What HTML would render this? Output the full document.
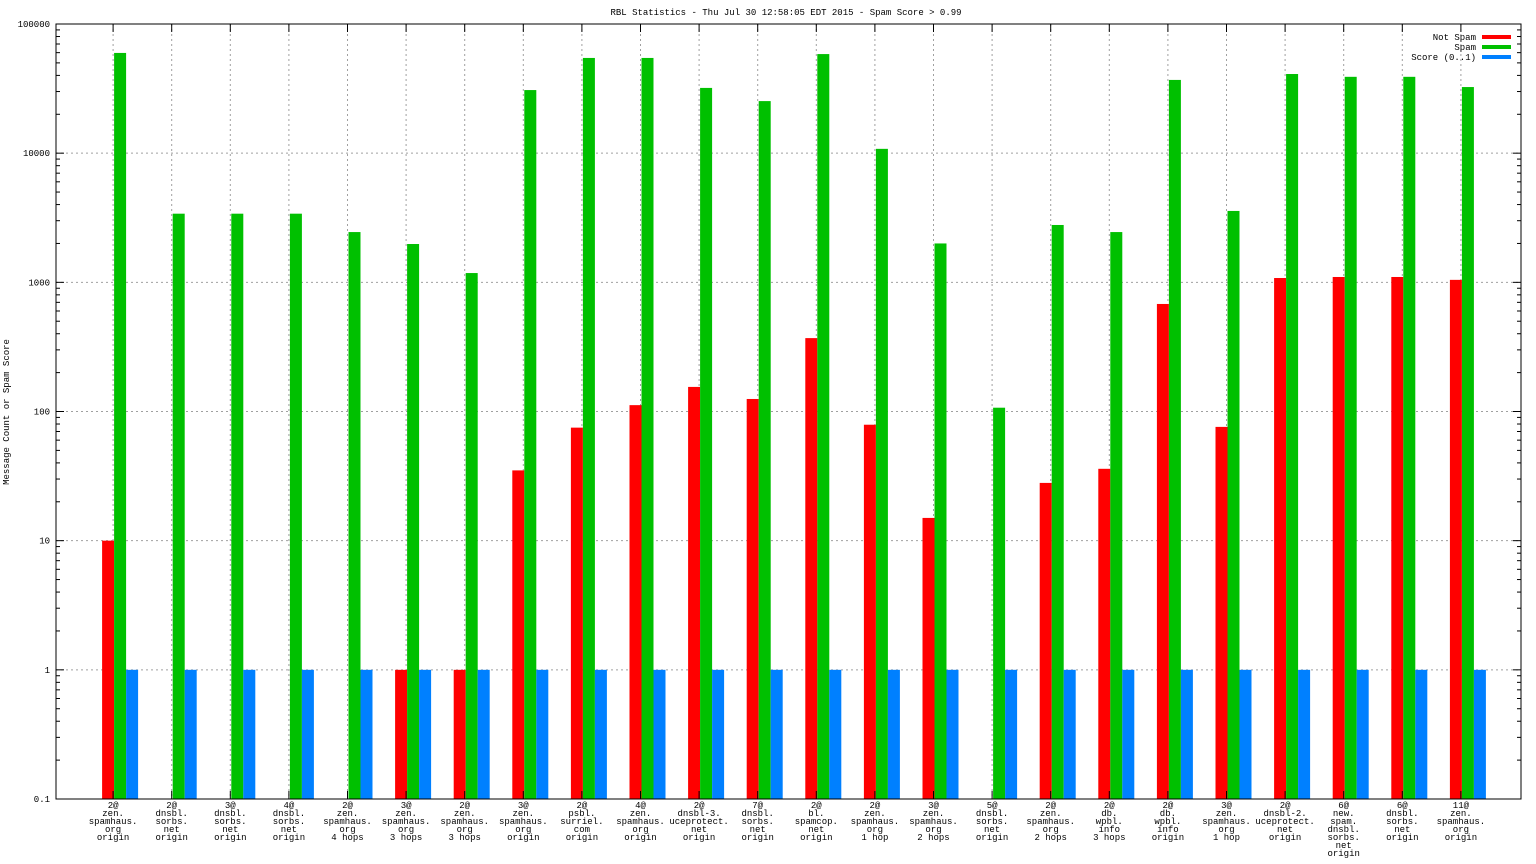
<!DOCTYPE html>
<html><head><meta charset="utf-8"><style>
html,body{margin:0;padding:0;background:#fff;}
svg{display:block;font-family:"Liberation Mono",monospace;}
</style></head><body>
<svg id="chart" width="1536" height="864" xmlns="http://www.w3.org/2000/svg">
<text x="786" y="15" font-size="9" text-anchor="middle">RBL Statistics - Thu Jul 30 12:58:05 EDT 2015 - Spam Score &gt; 0.99</text>
<text transform="translate(9,412) rotate(-90)" font-size="9" text-anchor="middle">Message Count or Spam Score</text>
<g id="grid"></g><g id="bars"></g><g id="axes"></g><g id="labels"></g>
<g>
<text x="1476" y="40" font-size="9" text-anchor="end">Not Spam</text><rect x="1482" y="35" width="29" height="4" fill="#ff0000"/>
<text x="1476" y="50" font-size="9" text-anchor="end">Spam</text><rect x="1482" y="45" width="29" height="4" fill="#00c000"/>
<text x="1476" y="60" font-size="9" text-anchor="end">Score (0..1)</text><rect x="1482" y="55" width="29" height="4" fill="#0080ff"/>
</g>
</svg>
<script>
const categories=[
["2@","zen.","spamhaus.","org","origin"],["2@","dnsbl.","sorbs.","net","origin"],["3@","dnsbl.","sorbs.","net","origin"],["4@","dnsbl.","sorbs.","net","origin"],["2@","zen.","spamhaus.","org","4 hops"],["3@","zen.","spamhaus.","org","3 hops"],["2@","zen.","spamhaus.","org","3 hops"],["3@","zen.","spamhaus.","org","origin"],["2@","psbl.","surriel.","com","origin"],["4@","zen.","spamhaus.","org","origin"],["2@","dnsbl-3.","uceprotect.","net","origin"],["7@","dnsbl.","sorbs.","net","origin"],["2@","bl.","spamcop.","net","origin"],["2@","zen.","spamhaus.","org","1 hop"],["3@","zen.","spamhaus.","org","2 hops"],["5@","dnsbl.","sorbs.","net","origin"],["2@","zen.","spamhaus.","org","2 hops"],["2@","db.","wpbl.","info","3 hops"],["2@","db.","wpbl.","info","origin"],["3@","zen.","spamhaus.","org","1 hop"],["2@","dnsbl-2.","uceprotect.","net","origin"],["6@","new.","spam.","dnsbl.","sorbs.","net","origin"],["6@","dnsbl.","sorbs.","net","origin"],["11@","zen.","spamhaus.","org","origin"]];
const notSpam=[10,0,0,0,0,1,1,35,75,112,155,125,370,79,15,0,28,36,680,76,1080,1100,1100,1045];
const spam=[59700,3400,3400,3400,2450,1980,1180,30800,54600,54600,32000,25300,58500,10800,2000,107,2780,2450,36900,3570,41000,39000,39000,32500];
const score=[1,1,1,1,1,1,1,1,1,1,1,1,1,1,1,1,1,1,1,1,1,1,1,1];
const yTicks=["0.1","1","10","100","1000","10000","100000"];
const L=56,R=1521,T=24,B=799;
const NS="http://www.w3.org/2000/svg";
function X(i){return L+(i+1)*(R-L)/25;}
function Y(v){return B-(Math.log10(v)+1)*(B-T)/6;}
function mk(tag,a,p){const e=document.createElementNS(NS,tag);for(const k in a)e.setAttribute(k,a[k]);p.appendChild(e);return e;}
const grid=document.getElementById('grid'),bars=document.getElementById('bars'),axes=document.getElementById('axes'),labels=document.getElementById('labels');
yTicks.forEach(t=>{const y=Y(parseFloat(t));
 if(y>T&&y<B){const g=mk('line',{x1:L,x2:R,y1:y,y2:y,stroke:'#a0a0a0','stroke-dasharray':'2,3','stroke-width':1},grid);
 
 }
 const tx=mk('text',{x:L-6,y:y+3,'font-size':9,'text-anchor':'end'},labels);tx.textContent=t;
 
 
 mk('line',{x1:L,x2:L+8,y1:y,y2:y,stroke:'#000'},axes);mk('line',{x1:R,x2:R-8,y1:y,y2:y,stroke:'#000'},axes);
 const v0=parseFloat(t);
 if(v0<100000)for(let m=2;m<10;m++){const ym=Y(v0*m);mk('line',{x1:L,x2:L+4,y1:ym,y2:ym,stroke:'#000'},axes);mk('line',{x1:R,x2:R-4,y1:ym,y2:ym,stroke:'#000'},axes);}
});
categories.forEach((c,i)=>{const x=X(i)-1.5;
 const g=mk('line',{x1:x,x2:x,y1:T,y2:B,stroke:'#a0a0a0','stroke-dasharray':'2,3'},grid);
 
 
 mk('line',{x1:x,x2:x,y1:B,y2:B-8,stroke:'#000'},axes);mk('line',{x1:x,x2:x,y1:T,y2:T+8,stroke:'#000'},axes);
 const t=mk('text',{x:x,y:808,'font-size':9,'text-anchor':'middle'},labels);
 
 
 c.forEach((s,j)=>{const ts=mk('tspan',{x:x,y:808+j*8},t);ts.textContent=s;});
 [[notSpam,'#ff0000',-11,'bar-not-spam'],[spam,'#00c000',1,'bar-spam'],[score,'#0080ff',13,'bar-score']].forEach(([arr,col,off,nm])=>{
  const v=arr[i];if(!v)return;const y=Y(v);
  const r=mk('rect',{x:x+off,y:y,width:12,height:B-y,fill:col},bars);
  
  
 });
});
mk('rect',{x:L,y:T,width:R-L,height:B-T,fill:'none',stroke:'#000','stroke-width':1},axes);
</script>
</body></html>
